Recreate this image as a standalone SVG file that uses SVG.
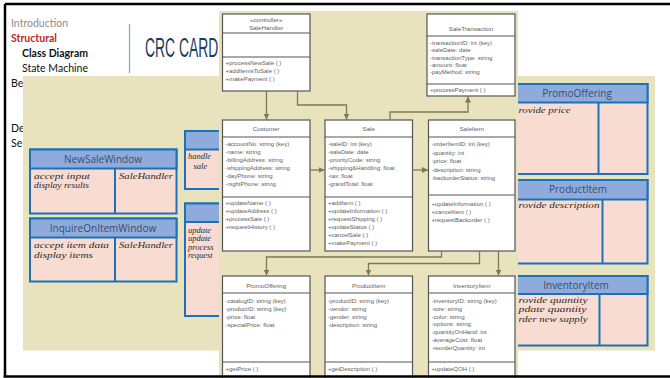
<svg xmlns="http://www.w3.org/2000/svg" width="670" height="378" viewBox="0 0 670 378">
<defs>
<style>
.menu{font-family:Lato,"Open Sans",sans-serif;font-size:10.5px}
.crcbody{fill:#f9dcd1;stroke:#1b72b8;stroke-width:2}
.crchead{fill:#8eabdb;stroke:#1b72b8;stroke-width:2}
.crcline{stroke:#1b72b8;stroke-width:2;fill:none}
.crct{font-family:"Open Sans",Lato,sans-serif;font-size:10px;fill:#3a4d70;text-anchor:middle}
.scr{font-family:"Liberation Serif",serif;font-style:italic;font-size:8.5px;fill:#2a2a2a}
.uml{fill:#ffffff;stroke:#555555;stroke-width:1.2}
.umll{stroke:#555555;stroke-width:1.2;fill:none}
.ut{font-family:"Liberation Sans",Arial,sans-serif;font-size:6px;fill:#5e5e5e}
.uh{font-family:"Liberation Sans",Arial,sans-serif;font-size:6.2px;fill:#5e5e5e;text-anchor:middle}
.con{stroke:#7d7856;stroke-width:1.3;fill:none}
</style>
<marker id="arr" viewBox="0 0 6 6" refX="6" refY="3" markerWidth="6" markerHeight="6" orient="auto" markerUnits="userSpaceOnUse">
<path d="M0,0 L6,3 L0,6 z" fill="#7d7856"/>
</marker>
</defs>
<rect x="0" y="0" width="670" height="378" fill="#ffffff"/>

<!-- left menu -->
<g id="menu">
<text class="menu" x="11" y="27" fill="#8c8c8c">Introduction</text>
<text class="menu" x="11" y="42" fill="#c0281e" font-weight="bold">Structural</text>
<text class="menu" x="22" y="57" fill="#111111" font-weight="bold">Class Diagram</text>
<text class="menu" x="22" y="72" fill="#111111">State Machine</text>
<text class="menu" x="11" y="87" fill="#111111">Be</text>
<text class="menu" x="11" y="132" fill="#111111">De</text>
<text class="menu" x="11" y="147" fill="#111111">Se</text>
<line x1="129.5" y1="24" x2="129.5" y2="73" stroke="#6aaed6" stroke-width="1.2"/>
<text transform="translate(145,57) scale(0.515,1)" x="0" y="0" font-family="'Liberation Sans',Arial,sans-serif" font-size="27" fill="#1f3a5a">CRC CARD</text>
</g>

<!-- beige panel -->
<rect x="23" y="76" width="632" height="274.5" fill="#e8e3bd"/>

<!-- CRC cards -->
<g id="crc-newsalewindow">
<rect class="crcbody" x="30" y="149.5" width="146.5" height="64"/>
<rect class="crchead" x="30" y="149.5" width="146.5" height="19"/>
<line class="crcline" x1="115" y1="168.5" x2="115" y2="213.5"/>
<text class="crct" x="103" y="162.5">NewSaleWindow</text>
<text class="scr" x="34" y="178.5" textLength="56" lengthAdjust="spacingAndGlyphs">accept input</text>
<text class="scr" x="34" y="188" textLength="55" lengthAdjust="spacingAndGlyphs">display results</text>
<text class="scr" x="119" y="178.5" textLength="54" lengthAdjust="spacingAndGlyphs">SaleHandler</text>
</g>
<g id="crc-inquireonitemwindow">
<rect class="crcbody" x="30" y="218.5" width="146.5" height="63"/>
<rect class="crchead" x="30" y="218.5" width="146.5" height="19"/>
<line class="crcline" x1="115" y1="237.5" x2="115" y2="281.5"/>
<text class="crct" x="103" y="231.5">InquireOnItemWindow</text>
<text class="scr" x="34" y="248" textLength="75" lengthAdjust="spacingAndGlyphs">accept item data</text>
<text class="scr" x="34" y="257.5" textLength="59" lengthAdjust="spacingAndGlyphs">display items</text>
<text class="scr" x="119" y="248" textLength="54" lengthAdjust="spacingAndGlyphs">SaleHandler</text>
</g>
<g id="crc-salehandler">
<rect class="crcbody" x="185" y="131" width="80" height="58"/>
<rect class="crchead" x="185" y="131" width="80" height="18.5"/>
<text class="scr" x="188" y="158.5">handle</text>
<text class="scr" x="193.5" y="169">sale</text>
</g>
<g id="crc-customer">
<rect class="crcbody" x="185" y="203.5" width="80" height="112.5"/>
<rect class="crchead" x="185" y="203.5" width="80" height="18.5"/>
<text class="scr" x="188" y="232.5">update</text>
<text class="scr" x="188" y="241">update</text>
<text class="scr" x="188" y="249.5">process</text>
<text class="scr" x="188" y="258">request</text>
</g>
<g id="crc-promooffering">
<rect class="crcbody" x="505" y="84" width="142.5" height="90"/>
<rect class="crchead" x="505" y="84" width="142.5" height="18.5"/>
<line class="crcline" x1="598.5" y1="102.5" x2="598.5" y2="174"/>
<text class="crct" x="577" y="96.5">PromoOffering</text>
<text class="scr" x="518.5" y="112.5" textLength="52" lengthAdjust="spacingAndGlyphs">rovide price</text>
</g>
<g id="crc-productitem">
<rect class="crcbody" x="505" y="180" width="142.5" height="83.5"/>
<rect class="crchead" x="505" y="180" width="142.5" height="19.5"/>
<line class="crcline" x1="602.5" y1="199.5" x2="602.5" y2="263.5"/>
<text class="crct" x="578" y="193">ProductItem</text>
<text class="scr" x="518.5" y="207.5" textLength="81" lengthAdjust="spacingAndGlyphs">rovide description</text>
</g>
<g id="crc-inventoryitem">
<rect class="crcbody" x="505" y="276" width="142.5" height="69.5"/>
<rect class="crchead" x="505" y="276" width="142.5" height="18"/>
<line class="crcline" x1="599.5" y1="294" x2="599.5" y2="345.5"/>
<text class="crct" x="576" y="288.5">InventoryItem</text>
<text class="scr" x="518.5" y="302.5" textLength="69" lengthAdjust="spacingAndGlyphs">rovide quantity</text>
<text class="scr" x="518.5" y="312" textLength="68" lengthAdjust="spacingAndGlyphs">pdate quantity</text>
<text class="scr" x="518.5" y="321.5" textLength="69" lengthAdjust="spacingAndGlyphs">rder new supply</text>
</g>

<!-- UML panel -->
<rect x="219" y="11" width="299" height="366" fill="#e8e3bd"/>

<g id="uml-salehandler">
<rect class="uml" x="222.5" y="14" width="87.5" height="77"/>
<line class="umll" x1="222.5" y1="33" x2="310" y2="33"/>
<line class="umll" x1="222.5" y1="57" x2="310" y2="57"/>
<text class="uh" x="266.2" y="22" font-size="5.5">«controller»</text>
<text class="uh" x="266.2" y="29.5">SaleHandler</text>
<text class="ut" x="225.5" y="64.5">+processNewSale ( )</text>
<text class="ut" x="225.5" y="72.5">+addItemsToSale ( )</text>
<text class="ut" x="225.5" y="80.5">+makePayment ( )</text>
</g>
<g id="uml-saletransaction">
<rect class="uml" x="427" y="14" width="88" height="82"/>
<line class="umll" x1="427" y1="36" x2="515" y2="36"/>
<line class="umll" x1="427" y1="84" x2="515" y2="84"/>
<text class="uh" x="471" y="31">SaleTransaction</text>
<text class="ut" x="430" y="45">-transactionID: int (key)</text>
<text class="ut" x="430" y="52.3">-saleDate: date</text>
<text class="ut" x="430" y="59.6">-transactionType: string</text>
<text class="ut" x="430" y="66.9">-amount: float</text>
<text class="ut" x="430" y="74.2">-payMethod: string</text>
<text class="ut" x="430" y="92">+processPayment ( )</text>
</g>
<g id="uml-customer">
<rect class="uml" x="222.5" y="120" width="87.5" height="131"/>
<line class="umll" x1="222.5" y1="137" x2="310" y2="137"/>
<line class="umll" x1="222.5" y1="197" x2="310" y2="197"/>
<text class="uh" x="266.2" y="131">Customer</text>
<text class="ut" x="225.5" y="146">-accountNo: string (key)</text>
<text class="ut" x="225.5" y="154">-name: string</text>
<text class="ut" x="225.5" y="162">-billingAddress: string</text>
<text class="ut" x="225.5" y="170">-shippingAddress: string</text>
<text class="ut" x="225.5" y="178">-dayPhone: string</text>
<text class="ut" x="225.5" y="186">-nightPhone: string</text>
<text class="ut" x="225.5" y="205">+updateName ( )</text>
<text class="ut" x="225.5" y="213">+updateAddress ( )</text>
<text class="ut" x="225.5" y="221">+processSale ( )</text>
<text class="ut" x="225.5" y="229">+requestHistory ( )</text>
</g>
<g id="uml-sale">
<rect class="uml" x="325" y="120" width="87.5" height="131"/>
<line class="umll" x1="325" y1="137" x2="412.5" y2="137"/>
<line class="umll" x1="325" y1="197" x2="412.5" y2="197"/>
<text class="uh" x="368.7" y="131">Sale</text>
<text class="ut" x="328" y="146">-saleID: int (key)</text>
<text class="ut" x="328" y="154">-saleDate: date</text>
<text class="ut" x="328" y="162">-priorityCode: string</text>
<text class="ut" x="328" y="170">-shipping&amp;Handling: float</text>
<text class="ut" x="328" y="178">-tax: float</text>
<text class="ut" x="328" y="186">-grandTotal: float</text>
<text class="ut" x="328" y="205">+addItem ( )</text>
<text class="ut" x="328" y="213">+updateInformation ( )</text>
<text class="ut" x="328" y="221">+requestShipping ( )</text>
<text class="ut" x="328" y="229">+updateStatus ( )</text>
<text class="ut" x="328" y="237">+cancelSale ( )</text>
<text class="ut" x="328" y="245">+makePayment ( )</text>
</g>
<g id="uml-saleitem">
<rect class="uml" x="428.5" y="120" width="86.5" height="131"/>
<line class="umll" x1="428.5" y1="137" x2="515" y2="137"/>
<line class="umll" x1="428.5" y1="195" x2="515" y2="195"/>
<text class="uh" x="471.7" y="131">SaleItem</text>
<text class="ut" x="431.5" y="146">-orderItemID: int (key)</text>
<text class="ut" x="431.5" y="154.5">-quantity: int</text>
<text class="ut" x="431.5" y="163">-price: float</text>
<text class="ut" x="431.5" y="171.5">-description: string</text>
<text class="ut" x="431.5" y="180">-backorderStatus: string</text>
<text class="ut" x="431.5" y="205.5">+updateInformation ( )</text>
<text class="ut" x="431.5" y="213.5">+cancelItem ( )</text>
<text class="ut" x="431.5" y="221.5">+requestBackorder ( )</text>
</g>
<g id="uml-promooffering">
<rect class="uml" x="222.5" y="276" width="87.5" height="110"/>
<line class="umll" x1="222.5" y1="293" x2="310" y2="293"/>
<line class="umll" x1="222.5" y1="362" x2="310" y2="362"/>
<text class="uh" x="266.2" y="287.5">PromoOffering</text>
<text class="ut" x="225.5" y="303">-catalogID: string (key)</text>
<text class="ut" x="225.5" y="311">-productID: string (key)</text>
<text class="ut" x="225.5" y="319">-price: float</text>
<text class="ut" x="225.5" y="327">-specialPrice: float</text>
<text class="ut" x="225.5" y="370.5">+getPrice ( )</text>
</g>
<g id="uml-productitem">
<rect class="uml" x="325" y="276" width="87.5" height="110"/>
<line class="umll" x1="325" y1="293" x2="412.5" y2="293"/>
<line class="umll" x1="325" y1="362" x2="412.5" y2="362"/>
<text class="uh" x="368.7" y="287.5">ProductItem</text>
<text class="ut" x="328" y="303">-productID: string (key)</text>
<text class="ut" x="328" y="311">-vendor: string</text>
<text class="ut" x="328" y="319">-gender: string</text>
<text class="ut" x="328" y="327">-description: string</text>
<text class="ut" x="328" y="370.5">+getDescription ( )</text>
</g>
<g id="uml-inventoryitem">
<rect class="uml" x="428.5" y="276" width="86.5" height="110"/>
<line class="umll" x1="428.5" y1="293" x2="515" y2="293"/>
<line class="umll" x1="428.5" y1="362" x2="515" y2="362"/>
<text class="uh" x="471.7" y="287.5">InventoryItem</text>
<text class="ut" x="431.5" y="303">-inventoryID: string (key)</text>
<text class="ut" x="431.5" y="310.8">-size: string</text>
<text class="ut" x="431.5" y="318.6">-color: string</text>
<text class="ut" x="431.5" y="326.4">-options: string</text>
<text class="ut" x="431.5" y="334.2">-quantityOnHand: int</text>
<text class="ut" x="431.5" y="342">-averageCost: float</text>
<text class="ut" x="431.5" y="349.8">-reorderQuantity: int</text>
<text class="ut" x="431.5" y="370.5">+updateQOH ( )</text>
</g>

<g id="connectors">
<path class="con" d="M266.5,91 V119.5" marker-end="url(#arr)"/>
<path class="con" d="M297.5,91 V105 H346.5 V119.5" marker-end="url(#arr)"/>
<path class="con" d="M390,120 V112 H468 V96.5" marker-end="url(#arr)"/>
<path class="con" d="M310,170 H324.5" marker-end="url(#arr)"/>
<path class="con" d="M412.5,170 H428" marker-end="url(#arr)"/>
<path class="con" d="M441.5,251 V257 H266.5 V275.5" marker-end="url(#arr)"/>
<path class="con" d="M479.5,251 V263.5 H368.5 V275.5" marker-end="url(#arr)"/>
<path class="con" d="M498.5,251 V275.5" marker-end="url(#arr)"/>
</g>

<!-- slide frame -->
<path d="M5,4 H670 M5,4 V376.5 M3.5,376.5 H670" stroke="#000000" stroke-width="2.5" fill="none"/>
</svg>
